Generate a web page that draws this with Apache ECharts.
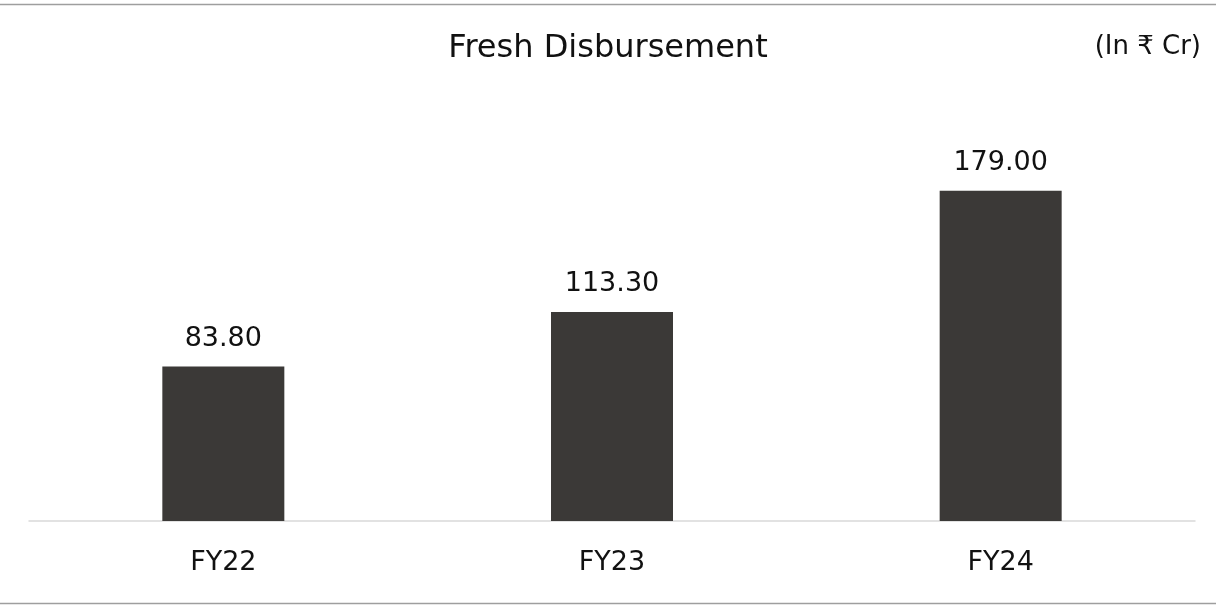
<!DOCTYPE html>
<html>
<head>
<meta charset="utf-8">
<script src="https://cdn.jsdelivr.net/npm/echarts@6/dist/echarts.min.js"></script>
<style>
  html, body { margin: 0; padding: 0; background: #fff; }
  #chart { width: 1216px; height: 606px; }
</style>
</head>
<body>
<div id="chart"></div>
<script>
const categories = ['FY22', 'FY23', 'FY24'];
const disbursement = [83.80, 113.30, 179.00];

const chart = echarts.init(document.getElementById('chart'));
const font = '"DejaVu Sans", "Noto Sans", sans-serif';

chart.setOption({
  animation: false,
  title: [
    {
      text: 'Fresh Disbursement',
      left: 'center',
      top: 28,
      textStyle: { fontFamily: font, fontSize: 32, fontWeight: 'normal', color: '#111' }
    },
    {
      text: '(In ₹ Cr)',
      right: 10,
      top: 29,
      textStyle: { fontFamily: font, fontSize: 26, fontWeight: 'normal', color: '#111' }
    }
  ],
  grid: { left: 29, right: 21, top: 152, bottom: 85 },
  xAxis: {
    type: 'category',
    data: categories,
    axisLine: { lineStyle: { color: '#d9d9d9', width: 1.5 } },
    axisTick: { show: false },
    axisLabel: { fontFamily: font, fontSize: 27, color: '#111', margin: 28 }
  },
  yAxis: {
    type: 'value',
    min: 0,
    max: 200,
    show: false,
    splitLine: { show: false }
  },
  series: [{
    type: 'bar',
    data: disbursement,
    barWidth: 122,
    itemStyle: { color: '#3b3937' },
    label: {
      show: true,
      position: 'top',
      distance: 14,
      formatter: p => p.value.toFixed(2),
      fontFamily: font,
      fontSize: 27,
      color: '#111'
    }
  }],
  graphic: [
    { type: 'line', shape: { x1: 0, y1: 4.5, x2: 1216, y2: 4.5 }, style: { stroke: '#9e9e9e', lineWidth: 1.5 } },
    { type: 'line', shape: { x1: 0, y1: 603.5, x2: 1216, y2: 603.5 }, style: { stroke: '#9e9e9e', lineWidth: 1.5 } }
  ]
});
</script>
</body>
</html>
